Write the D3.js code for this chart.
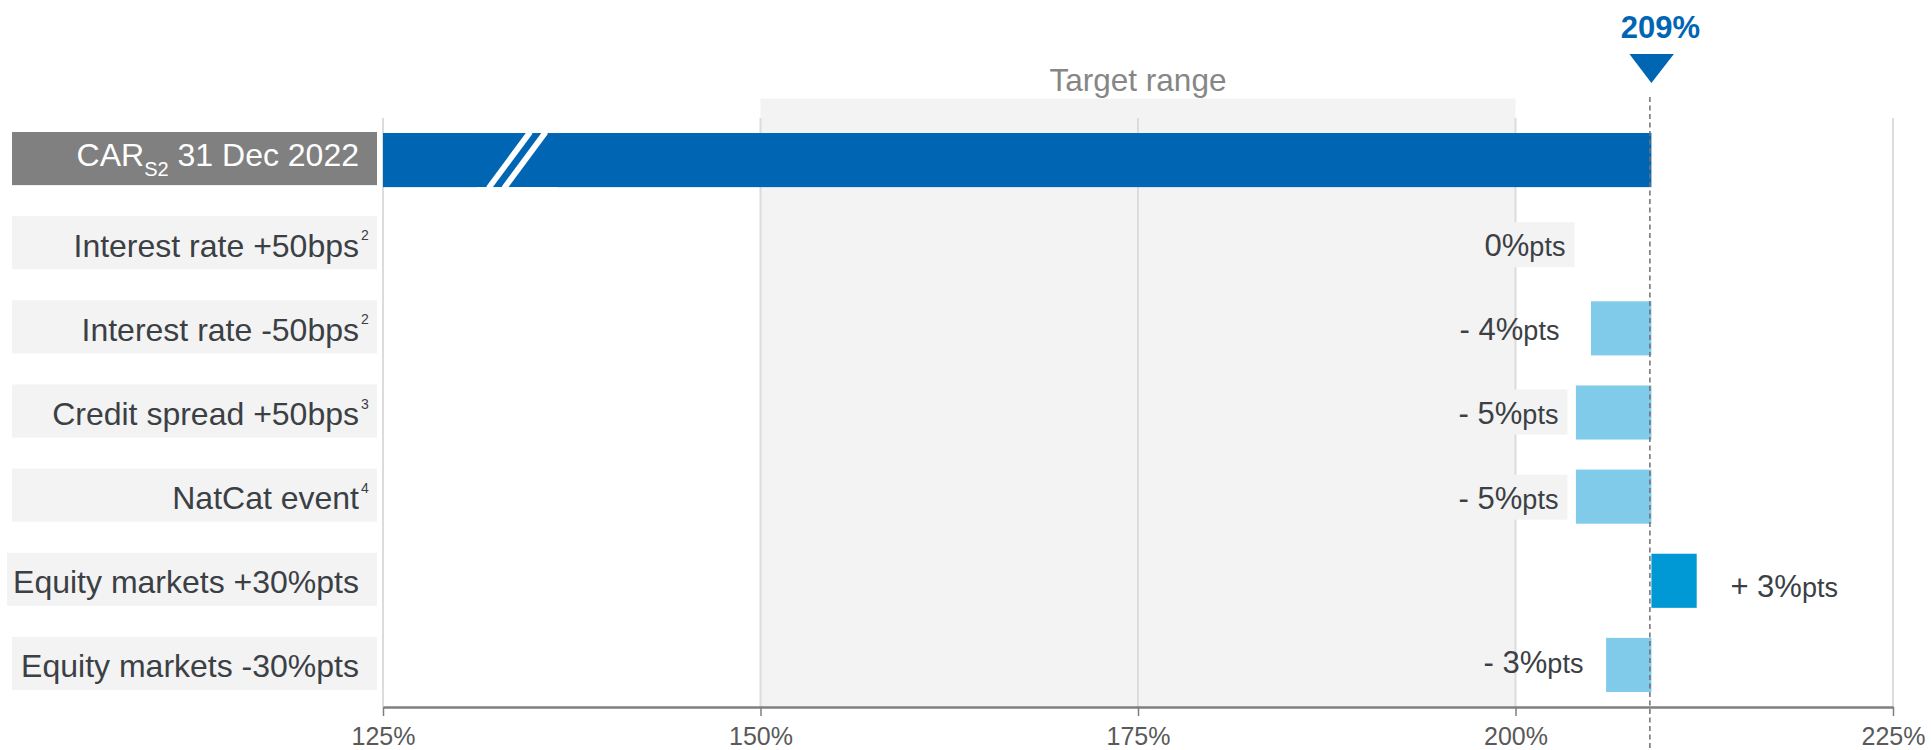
<!DOCTYPE html>
<html>
<head>
<meta charset="utf-8">
<script src="https://cdn.jsdelivr.net/npm/d3@7"></script>
<style>
  html, body { margin: 0; padding: 0; background: #ffffff; }
  svg { display: block; font-family: "Liberation Sans", Arial, sans-serif; }
</style>
</head>
<body>
<svg id="chart" width="1931" height="750"></svg>
<script>
// ---------------- data ----------------
const categories = [
  "CAR_{S2} 31 Dec 2022",
  "Interest rate +50bps",
  "Interest rate -50bps",
  "Credit spread +50bps",
  "NatCat event",
  "Equity markets +30%pts",
  "Equity markets -30%pts"
];
const footnotes = ["", "2", "2", "3", "4", "", ""];
const baseValue = 209;                       // CAR S2 at 31 Dec 2022, %
const deltas = [null, 0, -4, -5, -5, 3, -3]; // sensitivity, %pts
const tickValues = [125, 150, 175, 200, 225];
const axisDomain = [125, 225];
const targetRange = [150, 200];
const targetLabel = "Target range";
const breakAt = 133.9;                       // position of the axis-break marks on the base bar

// ---------------- layout / style (not data) ----------------
const labelOffsetPx = [null, -86, -92, -93, -93, 79, -68]; // value label anchor relative to base line
const labelDyPx     = [null, 12, 12, 11, 12, 16, 8];
const labelHasBg    = [false, true, false, true, true, false, false];

const colBase = "#0066b3", colNeg = "#80caea", colPos = "#0099d5";
const colText = "#3b4045", colGrid = "#dcdcdc", colShade = "#f3f3f3";

const svg = d3.select("#chart");

const x = d3.scaleLinear().domain(axisDomain).range([383, 1893]);
const y = d3.scaleBand().domain(d3.range(categories.length))
  .range([118, 707]).paddingInner(0.357).paddingOuter(0.1785);
const bw = y.bandwidth();
const cy = i => y(i) + bw / 2;
const axisY = 707;

// target range shading
svg.append("rect")
  .attr("x", x(targetRange[0])).attr("y", 98.5)
  .attr("width", x(targetRange[1]) - x(targetRange[0]))
  .attr("height", axisY - 98.5)
  .attr("fill", colShade);
svg.append("text")
  .attr("x", x((targetRange[0] + targetRange[1]) / 2)).attr("y", 91)
  .attr("text-anchor", "middle").attr("font-size", 31.5).attr("fill", "#868686")
  .text(targetLabel);

// gridlines
svg.append("g").selectAll("line").data(tickValues).join("line")
  .attr("x1", d => x(d)).attr("x2", d => x(d))
  .attr("y1", 118).attr("y2", axisY)
  .attr("stroke", colGrid).attr("stroke-width", 2);

// category labels
const labG = svg.append("g");
categories.forEach((c, i) => {
  const g = labG.append("g");
  const bg = g.append("rect").attr("fill", i === 0 ? "#808080" : "#f3f3f3");
  const t = g.append("text")
    .attr("x", 359).attr("text-anchor", "end")
    .attr("fill", i === 0 ? "#ffffff" : colText)
    .attr("font-size", 32);
  const m = c.match(/^(.*)_\{(.*)\}(.*)$/);
  if (m) {
    t.attr("y", cy(i) + 6);
    t.append("tspan").text(m[1]);
    t.append("tspan").attr("font-size", 20).attr("dy", 10).text(m[2]);
    t.append("tspan").attr("dy", -10).text(m[3]);
  } else {
    t.attr("y", cy(i) + 12.5).text(c);
  }
  const w = t.node().getComputedTextLength();
  const left = Math.min(12, 359 - w - 6);
  bg.attr("x", left).attr("y", y(i) - 1).attr("width", 377 - left).attr("height", bw - 1);
  if (footnotes[i]) {
    g.append("text").attr("x", 361).attr("y", cy(i) + 12.5 - 16.5)
      .attr("font-size", 14).attr("fill", colText).text(footnotes[i]);
  }
});

// base bar
svg.append("rect")
  .attr("x", x(axisDomain[0])).attr("y", y(0))
  .attr("width", x(baseValue) - x(axisDomain[0])).attr("height", bw)
  .attr("fill", colBase);
// break marks
const bx = x(breakAt), by0 = y(0), by1 = y(0) + bw;
[-8, 7.5].forEach(off => {
  const cxm = bx + off;
  const half = 20.8;
  svg.append("line")
    .attr("x1", cxm - half).attr("y1", by1 + 1)
    .attr("x2", cxm + half).attr("y2", by0 - 1)
    .attr("stroke", "#ffffff").attr("stroke-width", 5.8);
});
svg.append("rect").attr("x", bx - 40).attr("y", by0 - 4).attr("width", 80).attr("height", 4).attr("fill", "#ffffff");
svg.append("rect").attr("x", bx - 40).attr("y", by1).attr("width", 80).attr("height", 4).attr("fill", "#ffffff");

// value label backgrounds & labels
const valG = svg.append("g");
deltas.forEach((d, i) => {
  if (d === null) return;
  const t = valG.append("text")
    .attr("y", cy(i) + labelDyPx[i])
    .attr("fill", colText).attr("font-size", 31);
  const main = d === 0 ? "0%" : (d > 0 ? "+ " : "- ") + Math.abs(d) + "%";
  t.append("tspan").text(main);
  t.append("tspan").attr("font-size", 27).text("pts");
  t.attr("x", x(baseValue) + labelOffsetPx[i])
   .attr("text-anchor", d > 0 ? "start" : "end");
  if (labelHasBg[i]) {
    const bb = t.node().getBBox();
    const base = cy(i) + labelDyPx[i];
    valG.insert("rect", "text")
      .attr("x", bb.x - 14).attr("y", base - 34)
      .attr("width", bb.width + 23).attr("height", 45)
      .attr("fill", colShade);
  }
});

// delta bars
svg.append("g").selectAll("rect")
  .data(deltas.map((d, i) => ({ d, i })).filter(o => o.d !== null && o.d !== 0))
  .join("rect")
  .attr("x", o => x(Math.min(baseValue, baseValue + o.d)))
  .attr("y", o => y(o.i))
  .attr("width", o => Math.abs(x(baseValue + o.d) - x(baseValue)))
  .attr("height", bw)
  .attr("fill", o => o.d > 0 ? colPos : colNeg);

// axis
const axis = svg.append("g").attr("transform", `translate(0,${axisY})`)
  .call(d3.axisBottom(x).tickValues(tickValues).tickFormat(d => d + "%")
    .tickSize(9).tickSizeOuter(0).tickPadding(12));
axis.select(".domain").attr("stroke", "#7f7f7f").attr("stroke-width", 2.5);
axis.selectAll(".tick line").attr("stroke", "#7f7f7f").attr("stroke-width", 1.5);
axis.selectAll(".tick text").attr("fill", "#595959").attr("font-size", 25)
  .attr("dy", "0.66em")
  .attr("font-family", "'Liberation Sans', Arial, sans-serif");

// dashed reference line
svg.append("line")
  .attr("x1", x(baseValue) - 1.5).attr("x2", x(baseValue) - 1.5)
  .attr("y1", 97).attr("y2", 750)
  .attr("stroke", "#6f6f6f").attr("stroke-width", 1.5)
  .attr("stroke-dasharray", "5,3.5");

// marker triangle and headline value
const tx = x(baseValue);
svg.append("path")
  .attr("d", `M${tx - 22},54 L${tx + 22.5},54 L${tx},83 Z`)
  .attr("fill", colBase);
svg.append("text")
  .attr("x", tx + 9).attr("y", 38).attr("text-anchor", "middle")
  .attr("font-size", 31).attr("font-weight", "bold").attr("fill", colBase)
  .text(baseValue + "%");
</script>
</body>
</html>
